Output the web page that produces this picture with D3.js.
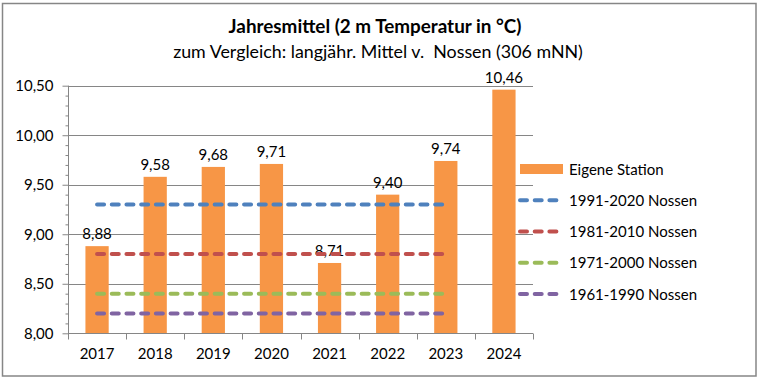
<!DOCTYPE html>
<html>
<head>
<meta charset="utf-8">
<script src="https://cdn.jsdelivr.net/npm/d3@7"></script>
<style>
  html, body { margin: 0; padding: 0; background: #fff; }
  svg { display: block; }
  text { font-family: Lato, "Open Sans", sans-serif; fill: #000; }
</style>
</head>
<body>
<svg id="chart" width="759" height="379"></svg>
<script>
const years = ["2017", "2018", "2019", "2020", "2021", "2022", "2023", "2024"];
const stationValues = [8.88, 9.58, 9.68, 9.71, 8.71, 9.40, 9.74, 10.46];
const refYears = ["2017", "2018", "2019", "2020", "2021", "2022", "2023"];
const ref1991 = [9.30, 9.30, 9.30, 9.30, 9.30, 9.30, 9.30];
const ref1981 = [8.80, 8.80, 8.80, 8.80, 8.80, 8.80, 8.80];
const ref1971 = [8.40, 8.40, 8.40, 8.40, 8.40, 8.40, 8.40];
const ref1961 = [8.20, 8.20, 8.20, 8.20, 8.20, 8.20, 8.20];
const yTicks = [8.0, 8.5, 9.0, 9.5, 10.0, 10.5];
const seriesNames = ["Eigene Station", "1991-2020 Nossen", "1981-2010 Nossen", "1971-2000 Nossen", "1961-1990 Nossen"];
const title = "Jahresmittel (2 m Temperatur in °C)";
const subtitle = "zum Vergleich: langjähr. Mittel v.  Nossen (306 mNN)";

const refSeries = [
  { name: seriesNames[1], values: ref1991, color: "#4F81BD" },
  { name: seriesNames[2], values: ref1981, color: "#C0504D" },
  { name: seriesNames[3], values: ref1971, color: "#9BBB59" },
  { name: seriesNames[4], values: ref1961, color: "#8064A2" }
];
const barColor = "#F79646";
const gridColor = "#868686";
const fmt = v => d3.format(".2f")(v).replace(".", ",");

const svg = d3.select("#chart");

// outer frame
svg.append("rect").attr("x", 2.5).attr("y", 3.5).attr("width", 753.5).attr("height", 372.5)
  .attr("fill", "#fff").attr("stroke", gridColor).attr("stroke-width", 1.5);

const x = d3.scaleBand().domain(years).range([68, 533]).paddingInner(0.6).paddingOuter(0.3);
const y = d3.scaleLinear().domain([8, 10.5]).range([333.3, 85.7]);

function fitText(sel, target) {
  const w = sel.node().getComputedTextLength();
  const fs = parseFloat(sel.attr("font-size"));
  sel.attr("font-size", (fs * target / w).toFixed(2));
}

// titles
const t1 = svg.append("text").attr("x", 375).attr("y", 33).attr("text-anchor", "middle")
  .attr("font-size", 17).attr("font-weight", "bold").text(title);
fitText(t1, 293);
const t2 = svg.append("text").attr("x", 378).attr("y", 58).attr("text-anchor", "middle")
  .attr("font-size", 15).style("white-space", "pre").text(subtitle);
fitText(t2, 410);

// gridlines
const step = x.step();
svg.append("g").selectAll("line").data(yTicks.slice(1)).join("line")
  .attr("x1", 68).attr("x2", 533)
  .attr("y1", d => Math.round(y(d)) + 0.5).attr("y2", d => Math.round(y(d)) + 0.5)
  .attr("stroke", gridColor).attr("stroke-width", 1);

// y axis
const yAxis = d3.axisLeft(y).tickValues(yTicks).tickFormat(fmt).tickSize(6).tickPadding(9);
const yG = svg.append("g").attr("transform", "translate(68.5,0)").call(yAxis);
yG.select(".domain").attr("stroke", gridColor).attr("d", `M0,${y(10.5)}V${y(8)}`);
yG.selectAll(".tick line").attr("stroke", gridColor);
yG.selectAll(".tick text").attr("font-size", 15).attr("font-family", "Lato, sans-serif").attr("fill", "#000");
const minorTicks = d3.range(81, 105).map(d => d / 10).filter(d => Math.abs(d * 2 - Math.round(d * 2)) > 1e-6);
const yMinor = d3.axisLeft(y).tickValues(minorTicks).tickFormat("").tickSize(3);
const yMG = svg.append("g").attr("transform", "translate(68.5,0)").call(yMinor);
yMG.select(".domain").remove();
yMG.selectAll(".tick line").attr("stroke", gridColor);

// bars
svg.append("g").selectAll("rect").data(years).join("rect")
  .attr("x", (d) => x(d))
  .attr("width", x.bandwidth())
  .attr("y", (d, i) => y(stationValues[i]))
  .attr("height", (d, i) => y(8) - y(stationValues[i]))
  .attr("fill", barColor);

// bar labels
svg.append("g").selectAll("text").data(years).join("text")
  .attr("x", d => x(d) + x.bandwidth() / 2)
  .attr("y", (d, i) => y(stationValues[i]) - 7)
  .attr("text-anchor", "middle").attr("font-size", 15)
  .text((d, i) => fmt(stationValues[i]));

// x axis
const xAxis = d3.axisBottom(x).tickSize(0).tickPadding(15);
const xG = svg.append("g").attr("transform", `translate(0,${Math.round(y(8)) + 0.5})`).call(xAxis);
xG.select(".domain").attr("stroke", gridColor).attr("d", "M68,0H533");
xG.selectAll(".tick text").attr("font-size", 15).attr("font-family", "Lato, sans-serif").attr("fill", "#000");
const boundaries = years.map(d => x(d) - step * x.paddingInner() / 2).concat([x.range()[1]]);
boundaries[0] = x.range()[0];
xG.append("g").selectAll("line").data(boundaries).join("line")
  .attr("x1", d => Math.round(d) + 0.5).attr("x2", d => Math.round(d) + 0.5)
  .attr("y1", 0).attr("y2", 6).attr("stroke", gridColor);

// reference lines
const line = d3.line().x((d, i) => x(refYears[i]) + x.bandwidth() / 2).y(d => y(d));
svg.append("g").selectAll("path").data(refSeries).join("path")
  .attr("d", d => line(d.values))
  .attr("fill", "none").attr("stroke", d => d.color).attr("stroke-width", 4)
  .attr("stroke-linecap", "round").attr("stroke-dasharray", "7 7.7");

// legend
const legendY = d3.scalePoint().domain(seriesNames).range([169, 294]);
const lg = svg.append("g");
lg.append("rect").attr("x", 520).attr("y", legendY(seriesNames[0]) - 5).attr("width", 43).attr("height", 10).attr("fill", barColor);
lg.selectAll("path").data(refSeries).join("path")
  .attr("d", d => `M520,${legendY(d.name)}H560`)
  .attr("fill", "none").attr("stroke", d => d.color).attr("stroke-width", 4)
  .attr("stroke-linecap", "round").attr("stroke-dasharray", "7 7.7");
lg.selectAll("text").data(seriesNames).join("text")
  .attr("x", 569).attr("y", d => legendY(d) + 5.5).attr("font-size", 15).text(d => d);
</script>
</body>
</html>
